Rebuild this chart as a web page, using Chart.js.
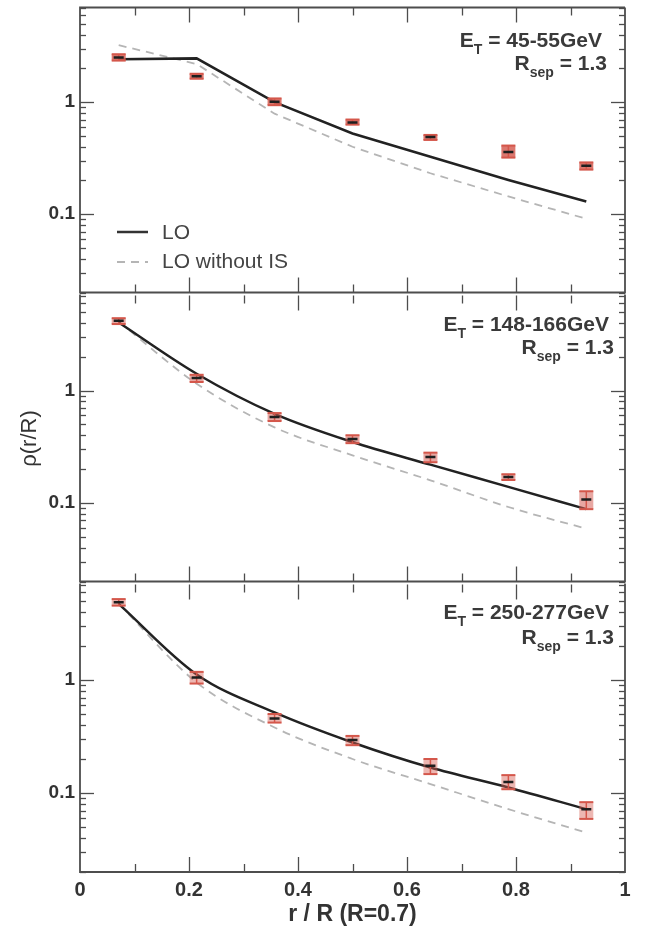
<!DOCTYPE html>
<html>
<head>
<meta charset="utf-8">
<script src="https://cdn.jsdelivr.net/npm/chart.js@4.4.0/dist/chart.umd.min.js"></script>
<style>
  html, body { margin: 0; padding: 0; background: #fff; }
  #wrap { position: relative; width: 646px; height: 932px; }
  canvas { position: absolute; left: 0; }
</style>
</head>
<body>
<div id="wrap">
  <canvas id="c1" width="646" height="300" style="top:0px"></canvas>
  <canvas id="c2" width="646" height="301" style="top:288px"></canvas>
  <canvas id="c3" width="646" height="355" style="top:577px"></canvas>
</div>
<script>
// bin centres r/R
var radius = [0.071, 0.214, 0.357, 0.5, 0.643, 0.786, 0.929];

// E_T = 45-55 GeV
var rho1   = [2.5, 1.70, 1.01, 0.66, 0.49, 0.36, 0.27];
var rho1Hi = [2.68, 1.78, 1.08, 0.70, 0.51, 0.41, 0.29];
var rho1Lo = [2.35, 1.63, 0.94, 0.63, 0.46, 0.32, 0.25];
var lo1     = [2.42, 2.46, 1.0, 0.525, 0.326, 0.202, 0.13];
var loNoIS1 = [3.23, 2.19, 0.79, 0.40, 0.232, 0.144, 0.091];

// E_T = 148-166 GeV
var rho2   = [4.17, 1.29, 0.58, 0.37, 0.256, 0.17, 0.107];
var rho2Hi = [4.4, 1.38, 0.63, 0.40, 0.28, 0.18, 0.127];
var rho2Lo = [3.9, 1.19, 0.535, 0.34, 0.23, 0.16, 0.088];
var lo2     = [4.03, 1.41, 0.62, 0.348, 0.219, 0.139, 0.088];
var loNoIS2 = [4.1, 1.15, 0.47, 0.265, 0.159, 0.092, 0.059];

// E_T = 250-277 GeV
var rho3   = [4.87, 1.05, 0.457, 0.294, 0.174, 0.125, 0.072];
var rho3Hi = [5.2, 1.18, 0.50, 0.32, 0.20, 0.144, 0.083];
var rho3Lo = [4.55, 0.93, 0.42, 0.265, 0.147, 0.108, 0.059];
var lo3     = [4.72, 1.12, 0.516, 0.28, 0.168, 0.112, 0.072];
var loNoIS3 = [4.72, 0.95, 0.38, 0.20, 0.12, 0.072, 0.0446];

var yTicks = [0.1, 1];
var xTicks = [0, 0.2, 0.4, 0.6, 0.8, 1];

Chart.defaults.font.family = "'Liberation Sans', Arial, sans-serif";
Chart.defaults.color = '#333';

function pts(ys) {
  return radius.map(function (r, i) { return { x: r, y: ys[i] }; });
}

function seg(ctx, x1, y1, x2, y2) {
  ctx.beginPath(); ctx.moveTo(x1, y1); ctx.lineTo(x2, y2); ctx.stroke();
}

var decor = {
  id: 'decor',
  beforeDatasetDraw: function (chart, args) {
    if (chart.data.datasets[args.index].label !== 'data') return;
    var o = chart.options.plugins.decor;
    var xs = chart.scales.x, ys = chart.scales.y, ctx = chart.ctx;
    ctx.save();
    for (var i = 0; i < radius.length; i++) {
      var px = xs.getPixelForValue(radius[i]);
      var yt = ys.getPixelForValue(o.hi[i]), yb = ys.getPixelForValue(o.lo[i]);
      if (yb - yt < 5) { var c = (yt + yb) / 2; yt = c - 2.5; yb = c + 2.5; }
      ctx.fillStyle = o.fill;
      ctx.fillRect(px - 7, yt, 14, yb - yt);
      ctx.strokeStyle = '#d4574b';
      ctx.lineWidth = 2;
      seg(ctx, px - 7, yt, px + 7, yt);
      seg(ctx, px - 7, yb, px + 7, yb);
      ctx.lineWidth = 1.5;
      seg(ctx, px, yt, px, yb);
    }
    ctx.restore();
  },
  afterDraw: function (chart) {
    var o = chart.options.plugins.decor;
    var ctx = chart.ctx, a = chart.chartArea, xs = chart.scales.x, ys = chart.scales.y;
    ctx.save();
    ctx.strokeStyle = '#4d4d4d';
    ctx.lineWidth = 1.3;
    // x ticks, top and bottom, pointing in
    for (var i = 1; i < 10; i++) {
      var px = Math.round(xs.getPixelForValue(i / 10)) + 0.5;
      var len = i % 2 === 0 ? 15 : 8;
      seg(ctx, px, a.top, px, a.top + len);
      seg(ctx, px, a.bottom, px, a.bottom - len);
    }
    // log y ticks, left and right
    for (var e = -2; e <= 0; e++) {
      for (var m = 1; m < 10; m++) {
        var v = m * Math.pow(10, e);
        if (v < ys.min || v > ys.max) continue;
        var py = Math.round(ys.getPixelForValue(v)) + 0.5;
        var l = m === 1 ? 14 : 6;
        seg(ctx, a.left, py, a.left + l, py);
        seg(ctx, a.right, py, a.right - l, py);
      }
    }
    // frame (lower panels reuse the bottom edge of the panel above)
    ctx.lineWidth = 1.8;
    ctx.beginPath();
    if (o.top) { ctx.moveTo(a.right, a.top); ctx.lineTo(a.left, a.top); }
    else { ctx.moveTo(a.left, a.top - 1); }
    ctx.lineTo(a.left, a.bottom);
    ctx.lineTo(a.right, a.bottom);
    ctx.lineTo(a.right, o.top ? a.top : a.top - 1);
    ctx.stroke();

    // energy / R_sep labels
    ctx.fillStyle = '#3a3a3a';
    ctx.textAlign = 'left';
    ctx.textBaseline = 'alphabetic';
    function sub(main, s, rest, right, base) {
      ctx.font = 'bold 21px "Liberation Sans", Arial, sans-serif';
      var w1 = ctx.measureText(main).width, w3 = ctx.measureText(rest).width;
      ctx.font = 'bold 14px "Liberation Sans", Arial, sans-serif';
      var w2 = ctx.measureText(s).width;
      var x = right - w1 - w2 - w3;
      ctx.font = 'bold 21px "Liberation Sans", Arial, sans-serif';
      ctx.fillText(main, x, base);
      ctx.font = 'bold 14px "Liberation Sans", Arial, sans-serif';
      ctx.fillText(s, x + w1, base + 7);
      ctx.font = 'bold 21px "Liberation Sans", Arial, sans-serif';
      ctx.fillText(rest, x + w1 + w2, base);
    }
    sub('E', 'T', ' = ' + o.energy, o.right, a.top + o.base1);
    sub('R', 'sep', ' = 1.3', o.right + 5, a.top + o.base2);

    if (o.legend) {
      ctx.font = '21px "Liberation Sans", Arial, sans-serif';
      ctx.textBaseline = 'middle';
      ctx.fillStyle = '#444';
      ctx.strokeStyle = '#333';
      ctx.lineWidth = 2.5;
      seg(ctx, 117, 232, 148, 232);
      ctx.fillText('LO', 162, 233);
      ctx.strokeStyle = '#b5b5b5';
      ctx.lineWidth = 1.8;
      ctx.setLineDash([8, 6]);
      seg(ctx, 117, 262, 148, 262);
      ctx.setLineDash([]);
      ctx.fillText('LO without IS', 162, 262);
    }
    ctx.restore();
  }
};

function makePanel(id, rho, lo0, noIS, info, isBottom, yTitle, smooth) {
  var padBottom = isBottom ? 0 : 6;
  return new Chart(document.getElementById(id), {
    type: 'scatter',
    data: {
      datasets: [
        { label: 'data', data: pts(rho), showLine: false, pointStyle: 'line',
          pointRadius: 5, borderColor: '#1e1e1e', borderWidth: 2.5, order: 0 },
        { label: 'LO', data: pts(lo0), showLine: true, pointRadius: 0,
          borderColor: '#222', borderWidth: 2.5, cubicInterpolationMode: smooth ? 'monotone' : 'default', order: 1 },
        { label: 'LO without IS', data: pts(noIS), showLine: true, pointRadius: 0,
          borderColor: '#b5b5b5', borderWidth: 1.8, borderDash: [8, 6],
          cubicInterpolationMode: smooth ? 'monotone' : 'default', order: 2 }
      ]
    },
    options: {
      responsive: false,
      animation: false,
      layout: { padding: { top: 6, bottom: padBottom, left: 0, right: 21 } },
      plugins: {
        legend: { display: false },
        tooltip: { enabled: false },
        decor: info
      },
      scales: {
        x: {
          type: 'linear', min: 0, max: 1, display: isBottom,
          afterBuildTicks: function (s) { s.ticks = xTicks.map(function (v) { return { value: v }; }); },
          afterFit: function (s) {
            if (isBottom) s.height = 60;
            s.paddingLeft = 0; s.paddingRight = 0;
          },
          grid: { display: false, drawTicks: false },
          border: { display: false },
          ticks: { padding: 6, color: '#333', font: { size: 20, weight: 'bold' },
                   callback: function (v) { return String(v); } },
          title: { display: isBottom, text: 'r / R (R=0.7)', color: '#333',
                   font: { size: 23, weight: 'bold' }, padding: { top: 0, bottom: 4 } }
        },
        y: {
          type: 'logarithmic', min: 0.02, max: 7,
          afterBuildTicks: function (s) { s.ticks = yTicks.map(function (v) { return { value: v }; }); },
          afterFit: function (s) { s.width = 80; s.paddingTop = 0; s.paddingBottom = 0; },
          grid: { display: false, drawTicks: false },
          border: { display: false },
          ticks: { padding: 5, color: '#333', font: { size: 19, weight: 'bold' },
                   callback: function (v) { return v === 1 ? '1' : '0.1'; } },
          title: { display: !!yTitle, text: yTitle || '', color: '#333',
                   font: { size: 22 }, padding: { top: 17, bottom: 0 } }
        }
      }
    },
    plugins: [decor]
  });
}

makePanel('c1', rho1, lo1, loNoIS1,
  { hi: rho1Hi, lo: rho1Lo, energy: '45-55GeV', right: 602, base1: 39, base2: 62,
    legend: true, top: true, fill: 'rgba(214,95,85,0.85)' }, false, null, false);
makePanel('c2', rho2, lo2, loNoIS2,
  { hi: rho2Hi, lo: rho2Lo, energy: '148-166GeV', right: 609, base1: 35, base2: 58,
    legend: false, top: false, fill: 'rgba(214,95,85,0.55)' }, false, '\u03C1(r/R)', true);
makePanel('c3', rho3, lo3, loNoIS3,
  { hi: rho3Hi, lo: rho3Lo, energy: '250-277GeV', right: 609, base1: 34, base2: 59,
    legend: false, top: false, fill: 'rgba(214,95,85,0.45)' }, true, null, true);
</script>
</body>
</html>
